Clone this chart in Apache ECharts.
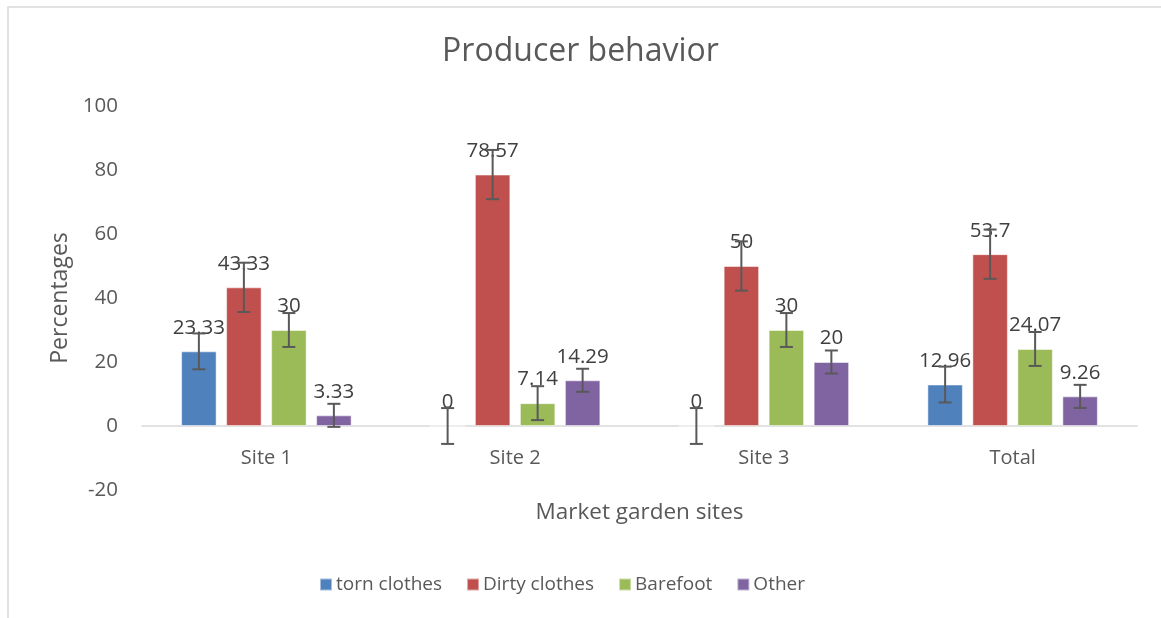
<!DOCTYPE html>
<html>
<head>
<meta charset="utf-8">
<script src="https://cdn.jsdelivr.net/npm/echarts@6/dist/echarts.min.js"></script>
<style>
  html, body { margin: 0; padding: 0; background: #fff; }
  #main { width: 1161px; height: 618px; }
</style>
</head>
<body>
<div id="main"></div>
<script>
// chart data
var sites = ['Site 1', 'Site 2', 'Site 3', 'Total'];
var tornClothes = [23.33, 0, 0, 12.96];
var dirtyClothes = [43.33, 78.57, 50, 53.7];
var barefoot = [30, 7.14, 30, 24.07];
var other = [3.33, 14.29, 20, 9.26];
// standard error per series
var errTorn = 5.6;
var errDirty = 7.7;
var errBarefoot = 5.3;
var errOther = 3.6;
var yTicks = [-20, 0, 20, 40, 60, 80, 100];

var seriesNames = ['torn clothes', 'Dirty clothes', 'Barefoot', 'Other'];
var seriesData = [tornClothes, dirtyClothes, barefoot, other];
var seriesErr = [errTorn, errDirty, errBarefoot, errOther];
var colors = ['#4f81bd', '#c0504d', '#9bbb59', '#8064a2'];

var BAR_W = 35.5;
var BAR_GAP = 9.5;
var FONT = '"Open Sans", sans-serif';

var myChart = echarts.init(document.getElementById('main'));

var series = [];
seriesNames.forEach(function (name, i) {
  series.push({
    name: name,
    type: 'bar',
    data: seriesData[i],
    barWidth: BAR_W,
    barGap: (BAR_GAP / BAR_W * 100) + '%',
    itemStyle: { color: colors[i], borderColor: 'rgba(255,255,255,0.5)', borderWidth: 1 },
    label: {
      show: true,
      position: 'top',
      distance: 13,
      color: '#404040',
      fontSize: 20.5,
      fontFamily: FONT
    }
  });
});

// error bars
seriesNames.forEach(function (name, i) {
  var offset = (i - 1.5) * (BAR_W + BAR_GAP);
  series.push({
    type: 'custom',
    z: 10,
    silent: true,
    data: seriesData[i].map(function (v, k) {
      return [k, v - seriesErr[i], v + seriesErr[i]];
    }),
    renderItem: function (params, api) {
      var lo = api.coord([api.value(0), api.value(1)]);
      var hi = api.coord([api.value(0), api.value(2)]);
      var x = lo[0] + offset;
      var cap = 6.5;
      var style = { stroke: '#595959', lineWidth: 2 };
      return {
        type: 'group',
        children: [
          { type: 'line', shape: { x1: x, y1: lo[1], x2: x, y2: hi[1] }, style: style },
          { type: 'line', shape: { x1: x - cap, y1: lo[1], x2: x + cap, y2: lo[1] }, style: style },
          { type: 'line', shape: { x1: x - cap, y1: hi[1], x2: x + cap, y2: hi[1] }, style: style }
        ]
      };
    }
  });
});

myChart.setOption({
  animation: false,
  textStyle: { fontFamily: FONT },
  graphic: [{
    type: 'rect',
    shape: { x: 8, y: 7, width: 1200, height: 700 },
    style: { fill: 'none', stroke: '#d9d9d9', lineWidth: 1.5 },
    silent: true
  }],
  title: {
    text: 'Producer behavior',
    left: 'center',
    top: 31,
    textStyle: { color: '#595959', fontSize: 32, fontWeight: 'normal', fontFamily: FONT }
  },
  legend: {
    data: seriesNames,
    left: 314,
    top: 570,
    itemWidth: 12,
    itemHeight: 12,
    itemGap: 24,
    icon: 'rect',
    textStyle: { color: '#595959', fontSize: 19, fontFamily: FONT, padding: [0, 0, 0, -1] }
  },
  grid: { left: 142, right: 24, top: 106, bottom: 128 },
  xAxis: {
    type: 'category',
    data: sites,
    position: 'bottom',
    offset: -64,
    name: 'Market garden sites',
    nameLocation: 'middle',
    nameGap: 75,
    nameTextStyle: { color: '#595959', fontSize: 22.5, fontFamily: FONT },
    axisLine: { onZero: false, lineStyle: { color: '#d9d9d9', width: 1.5 } },
    axisTick: { show: false },
    axisLabel: { color: '#595959', fontSize: 20, margin: 22, fontFamily: FONT }
  },
  yAxis: {
    type: 'value',
    min: yTicks[0],
    max: yTicks[yTicks.length - 1],
    interval: 20,
    name: 'Percentages',
    nameLocation: 'middle',
    nameGap: 70,
    nameTextStyle: { color: '#595959', fontSize: 23, fontFamily: FONT },
    axisLine: { show: false },
    axisTick: { show: false },
    splitLine: { show: false },
    axisLabel: { color: '#595959', fontSize: 20.5, margin: 24, fontFamily: FONT }
  },
  series: series
});
</script>
</body>
</html>
